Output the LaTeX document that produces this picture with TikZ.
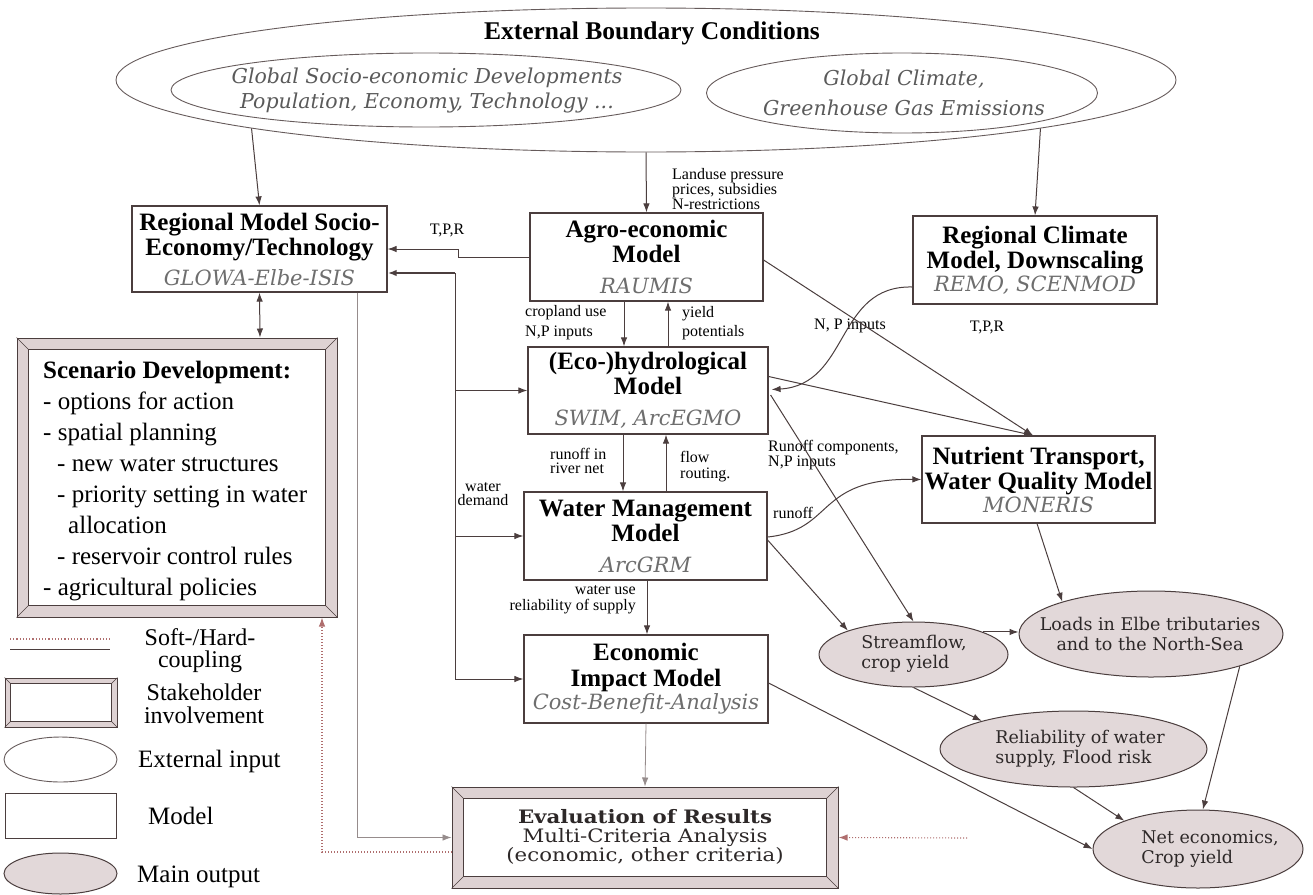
\documentclass[tikz,border=0pt]{standalone}
\usepackage{fontspec}
\setmainfont{Liberation Serif}
\newfontfamily\dvs{DejaVu Serif}
\newfontfamily\dvsx{DejaVu Serif}[FakeStretch=1.15]
\usetikzlibrary{shapes.geometric,arrows.meta,calc}
\definecolor{ln}{RGB}{75,62,62}
\definecolor{subc}{RGB}{110,110,110}
\definecolor{gtc}{RGB}{90,90,90}
\definecolor{outfill}{RGB}{226,216,217}
\definecolor{bevfill}{RGB}{222,210,211}
\definecolor{dotc}{RGB}{175,110,110}
\definecolor{soft}{RGB}{150,140,140}
\definecolor{outtc}{RGB}{45,40,40}
\newcommand\tb{\fontsize{25}{25}\selectfont\bfseries}
\newcommand\subf{\dvs\mdseries\itshape\fontsize{21}{24}\selectfont\color{subc}}
\newcommand\gtf{\dvs\itshape\fontsize{20.5}{25}\selectfont\color{gtc}}
\newcommand\outf{\dvs\fontsize{17.5}{20}\selectfont\color{outtc}}
\newcommand\bevel[2]{%
  \fill[white] ($(#1.north west)+(#2,#2)$) rectangle ($(#1.south east)+(-#2,-#2)$);
  \draw[ln, line width=0.8pt] ($(#1.north west)+(#2,#2)$) rectangle ($(#1.south east)+(-#2,-#2)$);
  \draw[ln, line width=0.6pt] (#1.north west) -- ++(#2,#2) (#1.north east) -- ++(-#2,#2)
        (#1.south west) -- ++(#2,-#2) (#1.south east) -- ++(-#2,-#2);}
\begin{document}
\begin{tikzpicture}[x=1pt,y=-1pt,
  arr/.style={draw=ln, line width=1pt, -{Latex[length=9pt,width=6.5pt]}},
  box/.style={draw=ln, line width=1.2pt, fill=white, align=center, inner sep=0pt, font=\tb},
  frame/.style={draw=ln, line width=1pt, fill=bevfill, inner sep=0pt},
  outell/.style={ellipse, draw=ln, fill=outfill, line width=1pt, inner sep=0pt},
  ext/.style={ellipse, draw=ln!85, line width=0.9pt, inner sep=0pt},
  lbl/.style={inner sep=0pt, font=\fontsize{16}{16}\selectfont, align=left},
  txt/.style={inner sep=0pt, align=center}]
\useasboundingbox (0,0) rectangle (1313,894);

% external boundary conditions
\node[ext, minimum width=1060pt, minimum height=144pt] (ebc) at (646,80) {};
\node[txt, font=\fontsize{25.5}{25}\selectfont\bfseries] (ebct) at (652,33) {External Boundary Conditions};
\node[ext, minimum width=510pt, minimum height=74pt] (gsoc) at (426,90) {};
\node[txt, font=\gtf] (gsoct) at (427,90.5) {Global Socio-economic Developments\\Population, Economy, Technology ...};
\node[ext, minimum width=391pt, minimum height=80pt] (gclim) at (902,93) {};
\node[txt, font=\dvs\itshape\fontsize{20.5}{30}\selectfont\color{gtc}] (gclimt) at (904,93) {Global Climate,\\Greenhouse Gas Emissions};

% model boxes
\node[box, minimum width=255pt, minimum height=86pt] (reg) at (259.5,249) {Regional Model Socio-\\Economy/Technology\\[5pt]\subf GLOWA-Elbe-ISIS};
\node[box, minimum width=233pt, minimum height=88pt] (agro) at (646.5,257) {Agro-economic\\Model\\[6pt]\subf RAUMIS};
\node[box, minimum width=244pt, minimum height=88pt] (rcm) at (1035,260) {Regional Climate\\Model, Downscaling\\[-2pt]\subf REMO, SCENMOD};
\node[box, minimum width=240pt, minimum height=87pt] (eco) at (648,390.5) {(Eco-)hydrological\\Model\\[6pt]\subf SWIM, ArcEGMO};
\node[box, minimum width=243pt, minimum height=88pt] (wm) at (645.5,536) {Water Management\\Model\\[6pt]\subf ArcGRM};
\node[box, minimum width=233pt, minimum height=87pt] (nut) at (1038.5,479.5) {Nutrient Transport,\\Water Quality Model\\[-2pt]\subf MONERIS};
\node[box, minimum width=244pt, minimum height=88pt] (econ) at (646,679) {Economic\\[1pt]Impact Model\\[-2pt]\subf Cost-Benefit-Analysis};

% stakeholder frames
\node[frame, minimum width=320pt, minimum height=279pt] (scen) at (177,477.5) {};
\bevel{scen}{12}
\node[anchor=north west, inner sep=0pt, align=left, font=\fontsize{25}{31}\selectfont] (scent) at (43,361)
  {{\bfseries Scenario Development:}\\- options for action\\- spatial planning\\
   \hspace*{14pt}- new water structures\\\hspace*{14pt}- priority setting in water\\
   \hspace*{25pt}allocation\\\hspace*{14pt}- reservoir control rules\\- agricultural policies};
\node[frame, minimum width=386pt, minimum height=101pt] (eval) at (645,837.5) {};
\bevel{eval}{12}
\node[txt, font=\dvsx\fontsize{18.5}{19}\selectfont\color{outtc}] (evalt) at (645,837)
  {{\bfseries Evaluation of Results}\\Multi-Criteria Analysis\\(economic, other criteria)};

% main outputs
\node[outell, minimum width=189pt, minimum height=65pt] (sf) at (913.5,654.5) {};
\node[txt, align=left, font=\outf] (sft) at (914,653.5) {Streamflow,\\crop yield};
\node[outell, minimum width=264pt, minimum height=86pt] (loads) at (1151,634) {};
\node[txt, font=\outf] (loadst) at (1150,633.5) {Loads in Elbe tributaries\\and to the North-Sea};
\node[outell, minimum width=267pt, minimum height=76pt] (rel) at (1073.5,749) {};
\node[txt, align=left, font=\outf] (relt) at (1080,748.5) {Reliability of water\\supply, Flood risk};
\node[outell, minimum width=210pt, minimum height=78pt] (net) at (1198,849) {};
\node[txt, align=left, font=\outf] (nett) at (1210,848.5) {Net economics,\\Crop yield};

% connector labels
\node[lbl, anchor=west, font=\fontsize{16}{13.5}\selectfont] (l1) at (672,189) {Landuse pressure\\prices, subsidies\\N-restrictions};
\node[lbl] (l2) at (447,230) {T,P,R};
\node[lbl, anchor=west, font=\fontsize{16}{20}\selectfont] (l3) at (525,323) {cropland use\\N,P inputs};
\node[lbl, anchor=west, font=\fontsize{16}{19}\selectfont] (l4) at (682,323.5) {yield\\potentials};
\node[lbl, anchor=west, font=\fontsize{16}{14}\selectfont] (l5) at (550,461) {runoff in\\river net};
\node[lbl, anchor=west] (l6) at (680,467) {flow\\routing.};
\node[lbl, align=center, font=\fontsize{16}{14}\selectfont] (l7) at (483,494) {water\\demand};
\node[lbl, anchor=east, align=right] (l8) at (636,600) {water use\\reliability of supply};
\node[lbl, anchor=west] (l9) at (773,513) {runoff};
\node[lbl] (l10) at (850,326) {N, P inputs};
\node[lbl] (l11) at (987,327) {T,P,R};
\node[lbl, anchor=west, font=\fontsize{16}{15}\selectfont] (l12) at (768,455.5) {Runoff components,\\N,P inputs};

% connectors from external conditions
\draw[arr] (ebc.187.8) -- (reg.north);
\draw[arr] (ebc.south) -- (agro.north);
\draw[arr] (ebc.-7.7) -- (rcm.north);

% bus on the left
\coordinate (bt) at (455,273);
\coordinate (bb) at (455,679);
\draw[ln, line width=1pt] (bt) -- (bb);
\draw[arr, line width=2pt] (bt) -- (reg.east |- bt);
\draw[arr] (bt |- eco.west) -- (eco.west);
\draw[arr] (bt |- wm.west) -- (wm.west);
\draw[arr] (bb) -- (econ.west);

% vertical chain
\draw[arr] (agro.west) -- (458,257) -- (458,249) -- (reg.east);
\draw[arr] ($(agro.south)+(-22.5,0)$) -- ($(eco.north)+(-24,0)$);
\draw[arr] ($(eco.north)+(20,0)$) -- ($(agro.south)+(21.5,0)$);
\draw[arr] ($(eco.south)+(-25,0)$) -- ($(wm.north)+(-22.5,0)$);
\draw[arr] ($(wm.north)+(20.5,0)$) -- ($(eco.south)+(18,0)$);
\draw[arr] ($(wm.south)+(1.5,0)$) -- ($(econ.north)+(1,0)$);
\draw[arr, draw=soft, line width=0.8pt] (econ.south) -- (eval.north);
\draw[ln, line width=1pt, {Latex[length=9pt,width=6.5pt]}-{Latex[length=9pt,width=6.5pt]}] (reg.south) -- ($(scen.north)+(83,0)$);
\draw[arr, draw=soft, line width=0.8pt] ($(reg.south)+(97.5,0)$) |- (eval.west);
\draw[arr, draw=dotc, dotted, line width=1.1pt] ($(eval.west)+(0,14.5)$) -| ($(scen.south)+(145,0)$);

% right part
\draw[arr] ($(agro.east)+(0,3)$) -- ($(nut.north)+(-5.5,0)$);
\draw[arr] ($(eco.east)+(0,-14)$) -- ($(nut.north)+(-5.5,0)$);
\draw[arr] ($(rcm.west)+(0,27)$) .. controls (835,285) and (850,385) .. ($(eco.east)+(3,-1)$);
\draw[arr] ($(eco.east)+(2,4.5)$) -- (sf.north);
\draw[arr] ($(wm.east)+(0,4)$) -- (sf.160);
\draw[arr] ($(wm.east)+(0,1)$) .. controls (835,530) and (815,478) .. (nut.west);
\draw[arr] ($(nut.south)+(-1.5,0)$) -- (loads.160);
\draw[arr] (sf.18) -- (sf.18 -| loads.west);
\draw[arr] (sf.south) -- (rel.163);
\draw[arr] (rel.south) -- (net.159);
\draw[arr] (loads.-20) -- (net.83);
\draw[arr] ($(econ.east)+(0,4)$) -- (net.west);
\coordinate (ds) at (967,838);
\draw[arr, draw=dotc, dotted, line width=1.1pt] (ds) -- (eval.east);

% legend
\coordinate (ld1) at (10,639); \coordinate (ld2) at (110,639);
\draw[dotc, dotted, line width=1.2pt] (ld1) -- (ld2);
\coordinate (ls1) at (10,649); \coordinate (ls2) at (110,649);
\draw[ln, line width=1pt] (ls1) -- (ls2);
\node[txt, font=\fontsize{24}{22}\selectfont] (lg1) at (200,651) {Soft-/Hard-\\coupling};
\node[frame, minimum width=112pt, minimum height=49pt] (legst) at (61,702.5) {};
\bevel{legst}{6}
\node[txt, font=\fontsize{24}{22.5}\selectfont] (lg2) at (204,704) {Stakeholder\\involvement};
\node[ext, minimum width=113pt, minimum height=45pt] (legext) at (60.5,759.5) {};
\node[txt, anchor=west, font=\fontsize{25}{25}\selectfont] (lg3) at (138,761) {External input};
\node[draw=ln, line width=1pt, inner sep=0pt, minimum width=111pt, minimum height=45pt] (legmod) at (60.5,815.5) {};
\node[txt, anchor=west, font=\fontsize{25}{25}\selectfont] (lg4) at (148,816) {Model};
\node[outell, minimum width=113pt, minimum height=41pt] (legout) at (60.5,873.5) {};
\node[txt, anchor=west, font=\fontsize{25}{25}\selectfont] (lg5) at (137,877) {Main output};
\end{tikzpicture}
\end{document}
